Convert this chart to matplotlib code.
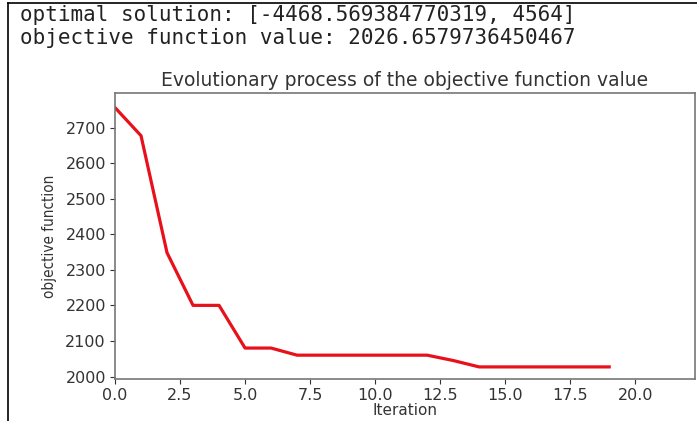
import matplotlib
matplotlib.use("Agg")
import matplotlib.pyplot as plt
from matplotlib.lines import Line2D

# data
iterations = list(range(20))
objective = [2756, 2677, 2348, 2200, 2200, 2080, 2080, 2060, 2060, 2060,
             2060, 2060, 2060, 2045, 2027, 2027, 2027, 2027, 2027, 2027]
best_solution = "[-4468.569384770319, 4564]"
best_value = "2026.6579736450467"

W, H = 697, 421
fig = plt.figure(figsize=(W / 100, H / 100), dpi=100)

# printed output above the plot
mono = dict(family="DejaVu Sans Mono", fontsize=15, color="#222222")
fig.text(20 / W, 1 - 21 / H, "optimal solution: " + best_solution, va="baseline", **mono)
fig.text(20 / W, 1 - 44 / H, "objective function value: " + best_value, va="baseline", **mono)

# frame of the screenshot cell
fig.add_artist(Line2D([8 / W, 1], [1 - 3 / H, 1 - 3 / H], color="black", lw=1.2, transform=fig.transFigure))
fig.add_artist(Line2D([8 / W, 8 / W], [0, 1 - 3 / H], color="black", lw=1.2, transform=fig.transFigure))

ax = fig.add_axes([115 / W, 1 - 379 / H, (695 - 115) / W, (379 - 93) / H])
ax.plot(iterations, objective, color="#e8101a", linewidth=2.3)

ax.set_xlim(0, 22.3)
ax.set_ylim(1993, 2797)
ax.set_xticks([0, 2.5, 5, 7.5, 10, 12.5, 15, 17.5, 20])
ax.set_yticks([2000, 2100, 2200, 2300, 2400, 2500, 2600, 2700])
ax.tick_params(labelsize=11.5, colors="#333333", length=3.5, pad=3)
for s in ax.spines.values():
    s.set_color("#777777")
    s.set_linewidth(1.2)

ax.set_title("Evolutionary process of the objective function value", fontsize=13.5, color="#333333", pad=5)
ax.set_xlabel("Iteration", fontsize=11, color="#333333", labelpad=0)
ax.set_ylabel("objective function", fontsize=11, color="#333333", fontstretch="condensed", labelpad=6)

fig.savefig("out.png", dpi=100)
